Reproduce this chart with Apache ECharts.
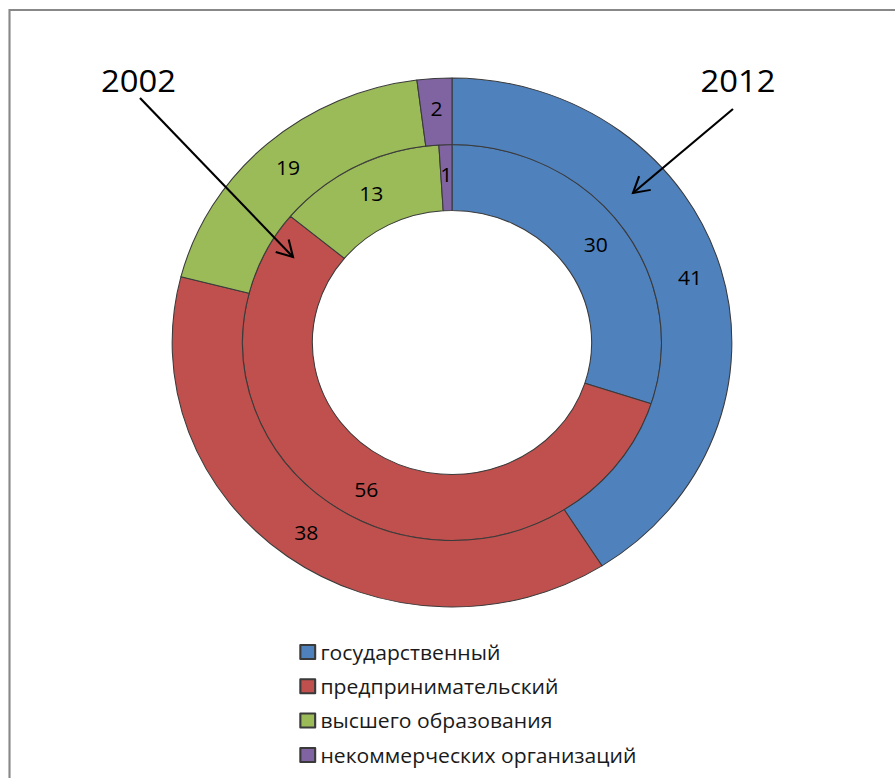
<!DOCTYPE html>
<html>
<head>
<meta charset="utf-8">
<script src="https://cdn.jsdelivr.net/npm/echarts@6/dist/echarts.min.js"></script>
<style>
  html, body { margin: 0; padding: 0; background: #fff; overflow: hidden; }
  /* the drawing is laid out slightly narrower and widened, so the rings come out as ellipses */
  #chart { width: 846px; height: 778px; transform: scaleX(1.058); transform-origin: 0 0; }
</style>
</head>
<body>
<div id="chart"></div>
<script>
// R&D expenditure structure by sector, %
const sectors = ['государственный', 'предпринимательский', 'высшего образования', 'некоммерческих организаций'];
const values2002 = [30, 56, 13, 1];
const values2012 = [41, 38, 19, 2];
const years = ['2002', '2012'];

const palette = ['#4F81BD', '#C0504D', '#9BBB59', '#8064A2'];
const SX = 1.058;               // horizontal widening applied by CSS
const CX = 452 / SX, CY = 342.5;
const FONT = 'Open Sans';

function ringSeries(name, values, radius) {
  return {
    name: name,
    type: 'pie',
    center: [CX, CY],
    radius: radius,
    startAngle: 90,
    clockwise: true,
    silent: true,
    animation: false,
    data: sectors.map((s, i) => ({ name: s, value: values[i] })),
    label: {
      show: true,
      position: 'inside',
      formatter: '{c}',
      color: '#000',
      fontSize: 20,
      fontFamily: FONT,
      textBorderWidth: 0
    },
    labelLine: { show: false },
    itemStyle: { borderColor: '#3a3a3a', borderWidth: 1 },
    emphasis: { disabled: true }
  };
}

// callout arrow: shaft plus open arrowhead, given in page pixels
function arrow(x1, y1, x2, y2) {
  const ang = Math.atan2(y2 - y1, x2 - x1), L = 18, A = Math.PI / 6;
  const p = (x, y) => [x / SX, y];
  const a1 = [x2 - L * Math.cos(ang - A), y2 - L * Math.sin(ang - A)];
  const a2 = [x2 - L * Math.cos(ang + A), y2 - L * Math.sin(ang + A)];
  return [
    { type: 'line', z: 100, silent: true,
      shape: { x1: x1 / SX, y1: y1, x2: x2 / SX, y2: y2 },
      style: { stroke: '#000', lineWidth: 2 } },
    { type: 'polyline', z: 100, silent: true,
      shape: { points: [p(a1[0], a1[1]), p(x2, y2), p(a2[0], a2[1])] },
      style: { stroke: '#000', lineWidth: 2, fill: null } }
  ];
}

function yearLabel(text, x, y) {
  return { type: 'text', z: 100, silent: true, x: x / SX, y: y,
    style: { text: text, fontSize: 31, fontFamily: FONT, fill: '#000',
             align: 'center', verticalAlign: 'middle' } };
}

const chart = echarts.init(document.getElementById('chart'), null, { renderer: 'svg' });
chart.setOption({
  animation: false,
  color: palette,
  backgroundColor: '#fff',
  legend: {
    orient: 'vertical',
    left: 294 / SX,
    top: 637,
    itemWidth: 14,
    itemHeight: 14,
    itemGap: 14.3,
    icon: 'rect',
    selectedMode: false,
    data: sectors,
    textStyle: { fontSize: 20, fontFamily: FONT, color: '#1a1a1a', lineHeight: 20 }
  },
  series: [
    ringSeries(years[0], values2002, [132, 198]),
    ringSeries(years[1], values2012, [198, 264.5])
  ],
  graphic: [
    { type: 'rect', silent: true, z: -1,
      shape: { x: 9.5 / SX, y: 10, width: 1000, height: 1000 },
      style: { fill: null, stroke: '#888', lineWidth: 2 } },
    yearLabel(years[0], 138.5, 80),
    yearLabel(years[1], 738, 80),
    ...arrow(140, 98, 293, 257),
    ...arrow(733, 109, 633, 193)
  ]
});
</script>
</body>
</html>
